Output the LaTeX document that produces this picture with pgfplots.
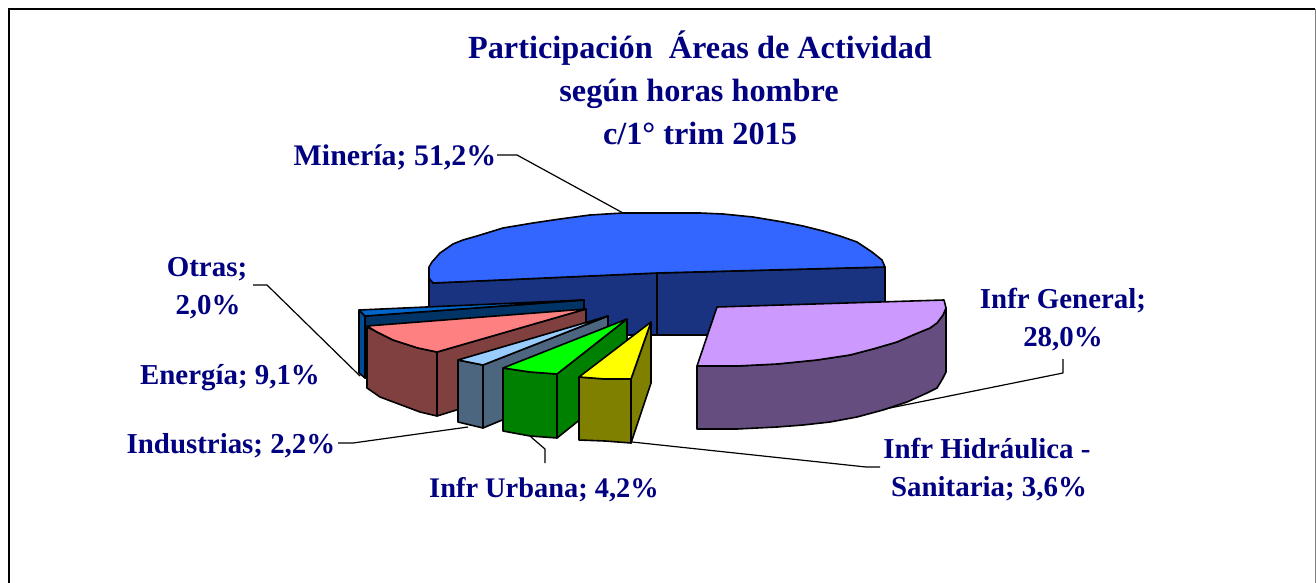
\documentclass[border=0pt]{standalone}
\usepackage{fontspec}
\setmainfont{Liberation Serif}
\usepackage{pgfplots}
\pgfplotsset{compat=1.18}
\definecolor{lab}{HTML}{000080}
\definecolor{blueT}{HTML}{3366FF}
\definecolor{blueS}{HTML}{1A3380}
\definecolor{otrasT}{HTML}{0066CC}
\definecolor{otrasS}{HTML}{003366}
\definecolor{otrasL}{HTML}{004C99}
\definecolor{eneT}{HTML}{FF8080}
\definecolor{eneS}{HTML}{804040}
\definecolor{indT}{HTML}{99CCFF}
\definecolor{indS}{HTML}{4D6680}
\definecolor{urbT}{HTML}{00FF00}
\definecolor{urbS}{HTML}{008000}
\definecolor{hidT}{HTML}{FFFF00}
\definecolor{hidS}{HTML}{808000}
\definecolor{genT}{HTML}{CC99FF}
\definecolor{genS}{HTML}{664D80}
\newcommand{\lb}{\fontsize{29}{33}\selectfont\bfseries\color{lab}}
\newcommand{\tb}{\fontsize{32.4}{36}\selectfont\bfseries\color{lab}}
\tikzset{
  sl/.style={draw=black,line width=1.6bp,fill=#1,line join=round},
  ld/.style={draw=black,line width=1.2bp,line join=round},
  lbl/.style={inner sep=0pt,anchor=base,align=center},
}
\begin{document}
\begin{tikzpicture}
\path[use as bounding box] (0,0) rectangle (1316bp,583bp);
\begin{axis}[
  at={(0,0)},anchor=south west,
  scale only axis,width=1316bp,height=583bp,
  xmin=0,xmax=1316,ymin=0,ymax=583,y dir=reverse,
  hide axis,clip=false,
]
% frame
\addplot[draw=black,line width=2bp] coordinates {(9,583)(9,9)(1315,9)};
\addplot[draw=gray,line width=1bp] coordinates {(1315,9)(1315,583)};
% leader lines
\addplot[ld] coordinates {(497,155)(517,155)(623,213)};
\addplot[ld] coordinates {(253,285)(267,285)(360,376)};
\addplot[ld] coordinates {(338,443)(353,443)(468,427)};
\addplot[ld] coordinates {(545,463)(545,449)(531,437)};
\addplot[ld] coordinates {(632,442)(866,467)(880,467)};
\addplot[ld] coordinates {(1063,359)(1063,373)(880,410)};
% Mineria
\addplot[sl=blueS] coordinates {(429,268)(433,283)(657,273)(885,267)(885,310)(707,335)(657,335)(433,335)(429,320)} --cycle;
\addplot[ld] coordinates {(657,273)(657,335)};
\addplot[sl=blueT] coordinates {(429,278)(433,283)(657,273)(885,267)(882,260)(872,252)(857,242)(840,236)(823,231)(803,226)(783,222)(753,217)(723,214)(700,213)(623,213)(590,215)(560,219)(533,223)(503,228)(477,236)(463,240)(453,244)(440,253)(432,262)(429,267)} --cycle;
% Otras
\addplot[sl=otrasS] coordinates {(365,316)(584,300)(584,325)(365,378)} --cycle;
\addplot[sl=otrasL] coordinates {(359,310)(365,316)(365,378)(359,373)} --cycle;
\addplot[sl=otrasT] coordinates {(359,310)(584,300)(365,316)} --cycle;
% Energia
\addplot[sl=eneS] coordinates {(437,352)(586,309)(586,370)(437,416)} --cycle;
\addplot[sl=eneS] coordinates {(367,327)(377,332)(393,340)(418,348)(437,352)(437,416)(420,412)(380,397)(367,388)} --cycle;
\addplot[sl=eneT] coordinates {(367,326)(586,309)(437,352)(418,348)(393,340)(377,332)} --cycle;
% Industrias
\addplot[sl=indS] coordinates {(483,365)(608,316)(608,376)(483,428)} --cycle;
\addplot[sl=indS] coordinates {(458,360)(483,365)(483,428)(458,422)} --cycle;
\addplot[sl=indT] coordinates {(458,360)(608,316)(483,365)} --cycle;
% Urbana
\addplot[sl=urbS] coordinates {(557,374)(627,319)(627,382)(557,438)} --cycle;
\addplot[sl=urbS] coordinates {(503,368)(530,372)(557,374)(557,438)(530,436)(503,431)} --cycle;
\addplot[sl=urbT] coordinates {(503,368)(627,319)(557,374)(530,372)} --cycle;
% Hidraulica
\addplot[sl=hidS] coordinates {(631,379)(651,322)(651,383)(631,443)} --cycle;
\addplot[sl=hidS] coordinates {(579,377)(605,379)(631,379)(631,443)(605,441)(579,440)} --cycle;
\addplot[sl=hidT] coordinates {(579,377)(651,322)(631,379)(605,379)} --cycle;
% General
\addplot[sl=genS] coordinates {(697,366)(737,366)(777,364)(817,360)(850,355)(873,349)(897,342)(913,335)(930,328)(937,323)(943,315)(946,308)(946,372)(943,378)(937,388)(927,393)(907,402)(883,410)(857,417)(830,422)(803,425)(777,427)(737,429)(697,429)} --cycle;
\addplot[sl=genT] coordinates {(717,307)(944,300)(946,308)(943,315)(937,323)(930,328)(913,335)(897,342)(873,349)(850,355)(817,360)(777,364)(737,366)(697,366)} --cycle;
% title
\node[lbl] at (axis cs:700,59) {\tb Participación\ \ Áreas de Actividad};
\node[lbl] at (axis cs:699,101) {\tb según horas hombre};
\node[lbl] at (axis cs:700,144) {\tb c/1° trim 2015};
% labels
\node[lbl] at (axis cs:395,165) {\fontsize{30}{33}\selectfont\bfseries\color{lab} Minería; 51,2\%};
\node[lbl] at (axis cs:207,276) {\lb Otras;};
\node[lbl] at (axis cs:208,314) {\lb 2,0\%};
\node[lbl] at (axis cs:230,384) {\lb Energía; 9,1\%};
\node[lbl] at (axis cs:231,453) {\lb Industrias; 2,2\%};
\node[lbl] at (axis cs:544,497) {\fontsize{28.5}{33}\selectfont\bfseries\color{lab} Infr Urbana; 4,2\%};
\node[lbl] at (axis cs:987,458) {\lb Infr Hidráulica -};
\node[lbl] at (axis cs:989,496) {\lb Sanitaria; 3,6\%};
\node[lbl] at (axis cs:1063,308) {\lb Infr General;};
\node[lbl] at (axis cs:1063,346) {\lb 28,0\%};
\end{axis}
\end{tikzpicture}
\end{document}
